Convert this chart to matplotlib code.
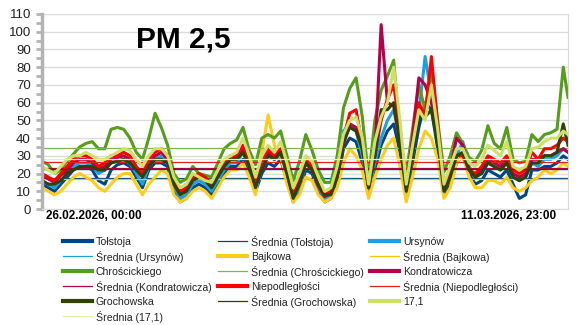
import matplotlib
matplotlib.use('Agg')
import matplotlib.pyplot as plt
from matplotlib.lines import Line2D
from matplotlib.ticker import MultipleLocator

plt.rcParams['font.family'] = ['Liberation Sans', 'DejaVu Sans']

# hours since 26.02.2026 00:00, read every 4 h off the chart
hours = list(range(0, 333, 4)) + [335]

tolstoja = [14, 12, 10, 14, 18, 22, 24, 24, 22, 16, 14, 22,
            25, 26, 24, 18, 12, 22, 26, 26, 24, 10, 4, 6,
            12, 14, 12, 8, 14, 20, 24, 24, 28, 20, 10, 20,
            26, 24, 28, 16, 4, 10, 22, 20, 10, 4, 6, 14,
            34, 40, 38, 26, 8, 22, 36, 44, 48, 32, 6, 26,
            46, 60, 56, 34, 8, 14, 26, 30, 20, 14, 16, 22,
            20, 18, 22, 14, 6, 8, 22, 22, 24, 24, 26, 30,
            28]
ursynow = [16, 14, 12, 16, 20, 24, 26, 26, 24, 20, 22, 26,
           27, 28, 26, 20, 14, 24, 28, 30, 26, 12, 6, 8,
           14, 16, 14, 10, 16, 22, 26, 26, 32, 24, 12, 22,
           30, 28, 30, 18, 5, 12, 26, 22, 12, 6, 8, 18,
           44, 48, 44, 30, 10, 26, 40, 50, 56, 38, 8, 30,
           54, 86, 64, 40, 10, 18, 30, 38, 24, 18, 20, 26,
           24, 22, 26, 18, 16, 18, 26, 24, 28, 28, 30, 34,
           32]
bajkowa = [12, 10, 8, 10, 14, 18, 20, 18, 16, 12, 10, 14,
           18, 20, 20, 14, 8, 14, 18, 22, 20, 8, 4, 6,
           10, 12, 10, 6, 12, 18, 22, 22, 26, 18, 8, 32,
           53, 36, 30, 14, 4, 8, 18, 16, 8, 4, 6, 12,
           26, 34, 30, 22, 6, 18, 28, 36, 40, 24, 4, 18,
           34, 44, 40, 28, 6, 12, 26, 30, 18, 12, 12, 16,
           16, 14, 18, 12, 10, 12, 16, 18, 22, 20, 22, 26,
           24]
chroscickiego = [27, 25, 20, 22, 27, 31, 35, 37, 38, 34, 34, 45,
                 46, 45, 40, 32, 28, 40, 54, 46, 36, 20, 15, 17,
                 24, 20, 19, 18, 26, 34, 37, 39, 46, 33, 25, 40,
                 42, 40, 44, 30, 16, 27, 42, 33, 22, 15, 15, 30,
                 57, 68, 74, 52, 17, 50, 67, 75, 84, 40, 20, 45,
                 70, 56, 78, 50, 21, 30, 43, 37, 29, 27, 33, 47,
                 37, 34, 46, 28, 26, 27, 42, 38, 42, 43, 45, 80,
                 63]
kondratowicza = [19, 17, 15, 19, 22, 26, 28, 28, 26, 23, 24, 28,
                 29, 30, 28, 23, 19, 26, 30, 32, 28, 15, 9, 11,
                 17, 19, 17, 13, 19, 25, 28, 29, 34, 26, 15, 24,
                 32, 28, 32, 20, 7, 15, 26, 22, 13, 7, 9, 18,
                 36, 48, 46, 34, 12, 30, 104, 60, 58, 40, 12, 40,
                 74, 70, 60, 42, 12, 22, 40, 36, 22, 18, 22, 28,
                 26, 24, 28, 20, 18, 20, 28, 28, 30, 30, 32, 34,
                 32]
niepodleglosci = [20, 18, 16, 20, 24, 28, 30, 30, 28, 24, 26, 30,
                  30, 32, 30, 24, 20, 28, 32, 34, 30, 16, 10, 12,
                  18, 20, 18, 14, 20, 26, 30, 30, 36, 28, 16, 26,
                  34, 30, 34, 22, 8, 16, 28, 24, 14, 8, 10, 20,
                  40, 54, 56, 36, 12, 30, 50, 62, 70, 45, 12, 34,
                  60, 52, 86, 48, 12, 20, 30, 30, 22, 20, 24, 30,
                  28, 26, 30, 22, 20, 22, 32, 28, 34, 34, 36, 40,
                  38]
grochowska = [16, 14, 14, 16, 20, 22, 24, 24, 24, 22, 22, 26,
              27, 28, 26, 22, 18, 24, 28, 28, 26, 14, 8, 10,
              16, 18, 16, 12, 18, 24, 28, 28, 32, 24, 12, 22,
              30, 28, 32, 20, 6, 14, 26, 22, 14, 8, 8, 18,
              38, 46, 44, 34, 12, 30, 56, 56, 60, 36, 10, 30,
              52, 52, 56, 38, 10, 18, 30, 32, 22, 18, 20, 26,
              24, 22, 26, 18, 16, 18, 26, 26, 30, 30, 32, 48,
              36]
s171 = [24, 22, 20, 24, 28, 30, 30, 32, 30, 28, 28, 30,
        32, 34, 33, 28, 24, 30, 34, 34, 30, 18, 12, 14,
        20, 18, 16, 15, 22, 28, 30, 32, 40, 30, 18, 30,
        36, 32, 38, 26, 12, 20, 30, 27, 18, 10, 12, 24,
        42, 50, 52, 40, 14, 38, 52, 60, 80, 50, 14, 36,
        56, 50, 70, 45, 14, 24, 34, 34, 26, 24, 28, 36,
        33, 30, 38, 24, 22, 24, 34, 35, 38, 40, 40, 44,
        42]

names = ['Tołstoja', 'Ursynów', 'Bajkowa', 'Chrościckiego',
         'Kondratowicza', 'Niepodległości', 'Grochowska', '17,1']
series = [tolstoja, ursynow, bajkowa, chroscickiego,
          kondratowicza, niepodleglosci, grochowska, s171]
averages = [17.5, 22.4, 17.2, 34.3, 23.3, 26.7, 22.6, 28.0]
colors = ['#004586', '#1ba1e2', '#ffcc1a', '#579d1c',
          '#b5004b', '#ff0000', '#314004', '#cde264']
avg_colors = ['#004586', '#1ba1e2', '#f5c400', '#7fb44f',
              '#b5004b', '#e02020', '#314004', '#e6efb0']

W, H = 580, 325
fig = plt.figure(figsize=(W / 100, H / 100), dpi=100)
ax = fig.add_axes([42 / W, 1 - 209 / H, 526 / W, 195 / H])

entries = []  # (label, color, width) in drawing order
for name, vals, avg, c, ac in zip(names, series, averages, colors, avg_colors):
    ax.plot(hours, vals, color=c, lw=2.2)
    ax.axhline(avg, color=ac, lw=0.9)
    entries.append((name, c, 3.0))
    entries.append(('Średnia (' + name + ')', ac, 0.9))

ax.set_xlim(0, 335)
ax.set_ylim(0, 110)
ax.yaxis.set_major_locator(MultipleLocator(10))
ax.yaxis.set_minor_locator(MultipleLocator(5))
ax.grid(axis='y', color='#dcdcdc', lw=1)
ax.set_axisbelow(True)
ax.set_xticks([])
ax.tick_params(axis='y', which='both', direction='out', length=4, width=2,
               color='#b3b3b3', labelsize=9.5, labelcolor='#222222', pad=4)
for side in ['right', 'bottom']:
    ax.spines[side].set_color('#d9d9d9')
ax.spines['top'].set_visible(False)
ax.spines['left'].set_color('#b3b3b3')
ax.spines['left'].set_linewidth(2.5)

fig.text(136 / W, 1 - 47 / H, 'PM 2,5', fontsize=21.5, fontweight='bold',
         ha='left', va='baseline')
fig.text(46 / W, 1 - 219 / H, '26.02.2026, 00:00', fontsize=8.5,
         fontweight='bold', ha='left', va='baseline')
fig.text(556 / W, 1 - 219 / H, '11.03.2026, 23:00', fontsize=8.5,
         fontweight='bold', ha='right', va='baseline')

# legend, row-major, three columns
col_x = [63, 218, 370]
for i, (label, c, lw) in enumerate(entries):
    r, k = divmod(i, 3)
    x0 = col_x[k]
    y = 1 - (241 + 15 * r) / H
    fig.add_artist(Line2D([x0 / W, (x0 + 29) / W], [y, y], color=c, lw=lw,
                          transform=fig.transFigure))
    fig.text((x0 + 33) / W, y, label, fontsize=7.6, color='#222222',
             ha='left', va='center_baseline')

fig.savefig('out.png', dpi=100)
